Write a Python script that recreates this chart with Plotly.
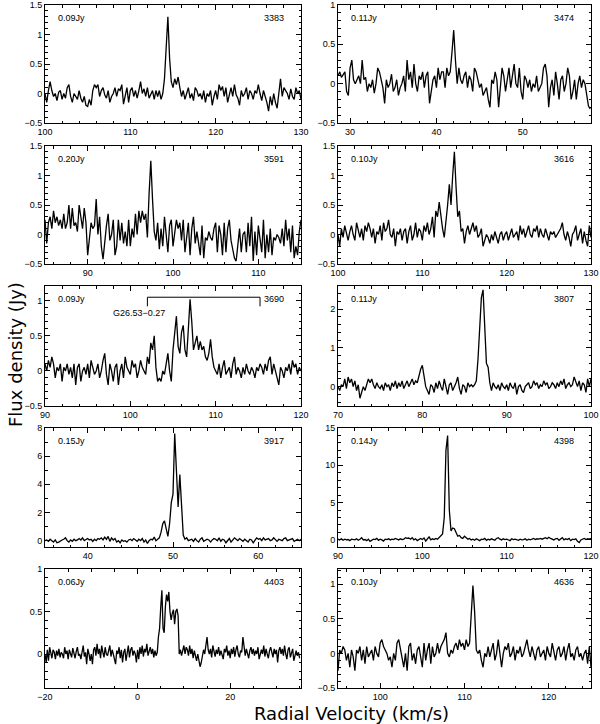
import numpy as np
import plotly.graph_objects as go

# ---------------- data ----------------
panel_ids = ["3383", "3474", "3591", "3616", "3690", "3807", "3917", "4398", "4403", "4636"]
rms_labels = ["0.09Jy", "0.11Jy", "0.20Jy", "0.10Jy", "0.09Jy", "0.11Jy", "0.15Jy", "0.14Jy", "0.06Jy", "0.10Jy"]
v_start = [100.0, 28.6, 85.0, 100.0, 90.0, 70.0, 35.0, 90.0, -20.0, 95.0]
v_step = [0.2, 0.2, 0.2, 0.2, 0.2, 0.2, 0.2, 0.2, 0.25, 0.2]

flux_3383 = [
    0.0, -0.15, 0.05, 0.2, 0.05, -0.05, 0.0, -0.12, 0.02, 0.05, -0.1, 0.0, -0.08, 0.1, 0.15, -0.05, -0.15, 0.0, -0.05, -0.1, 0.05, -0.08, -0.15, -0.05, -0.2,
    -0.22, -0.1, -0.2, 0.05, 0.15, 0.1, 0.15, -0.05, 0.05, 0.1, -0.02, -0.08, 0.05, -0.15, -0.05, 0.0, 0.1, -0.05, 0.08, 0.05, 0.15, -0.18, -0.05, 0.1, -0.15,
    0.05, 0.1, -0.05, 0.05, -0.08, 0.05, 0.2, 0.0, 0.08, -0.05, 0.1, -0.08, 0.0, 0.05, -0.1, 0.05, -0.05, 0.05, -0.1, 0.0, 0.25, 0.85, 1.3, 0.6, 0.2,
    0.1, 0.25, 0.15, 0.28, 0.1, -0.05, 0.05, -0.1, 0.0, 0.1, -0.08, 0.0, -0.12, 0.1, 0.05, -0.05, 0.0, -0.1, 0.05, -0.15, 0.0, -0.05, 0.05, -0.2, -0.05,
    0.05, -0.1, 0.15, 0.05, 0.12, -0.05, 0.1, -0.15, 0.0, 0.1, -0.05, 0.15, -0.02, -0.08, -0.2, 0.05, -0.05, 0.0, 0.1, -0.1, 0.05, 0.0, -0.1, 0.05, 0.0,
    0.15, 0.0, -0.12, 0.05, -0.05, -0.15, -0.3, -0.05, -0.2, 0.0, -0.15, -0.25, 0.0, 0.25, -0.05, 0.1, 0.05, 0.0, -0.1, 0.08, -0.05, -0.1, 0.1, 0.0, 0.05, -0.1,
]

flux_3474 = [
    0.1, 0.15, 0.08, 0.12, 0.15, -0.1, -0.15, 0.2, 0.3, 0.05, 0.0,
    0.05, 0.1, 0.0, 0.3, 0.05, 0.08, -0.1, 0.0, -0.05, 0.05,
    -0.12, 0.0, 0.2, 0.15, 0.05, -0.05, -0.25, 0.05, -0.05, 0.0,
    0.12, -0.1, -0.05, 0.05, -0.15, -0.05, 0.0, 0.1, -0.1, 0.3,
    0.05, 0.15, -0.05, 0.25, 0.0, -0.1, 0.1, 0.05, 0.15, -0.05,
    0.1, 0.15, -0.25, -0.1, 0.05, 0.1, -0.05, 0.2, 0.05, 0.15,
    0.15, -0.05, 0.2, 0.1, 0.15, 0.4, 0.68, 0.3, 0.0, 0.2,
    0.05, 0.0, 0.1, 0.15, -0.05, 0.1, 0.05, -0.1, 0.2, 0.15,
    0.05, -0.05, 0.0, -0.15, -0.1, -0.05, -0.2, -0.3, 0.05, 0.0,
    0.15, 0.05, -0.3, 0.0, 0.2, 0.1, -0.1, 0.05, 0.2, -0.05,
    0.1, 0.25, 0.0, -0.05, 0.2, -0.1, -0.2, 0.1, 0.05, -0.05,
    0.05, -0.1, 0.0, -0.05, 0.1, -0.1, -0.05, 0.0, 0.2, 0.25,
    0.1, -0.3, -0.05, 0.05, -0.15, 0.15, 0.0, -0.2, 0.05, 0.1,
    -0.1, 0.0, 0.2, 0.1, -0.2, -0.1, 0.05, -0.2, 0.0, 0.1,
    -0.05, 0.05, 0.0, -0.15, -0.28, -0.32,
]

flux_3591 = [
    0.25, -0.15, 0.2, 0.3, 0.1, 0.4, 0.2, 0.3, 0.15, 0.25,
    0.1, 0.35, 0.1, 0.2, 0.5, 0.1, 0.45, 0.15, 0.2, 0.05,
    0.5, 0.3, 0.1, 0.45, 0.2, -0.35, -0.1, 0.2, 0.1, 0.15,
    0.6, 0.0, 0.3, -0.2, -0.42, -0.1, 0.15, 0.35, -0.1, 0.0,
    0.25, -0.35, -0.2, 0.25, -0.1, 0.2, -0.15, 0.05, -0.2, 0.25,
    -0.2, 0.1, -0.05, 0.35, 0.0, 0.4, 0.2, 0.4, 0.25, 0.35,
    -0.05, 0.7, 1.25, 0.6, 0.05, -0.1, 0.2, -0.25, 0.1, -0.2,
    0.3, 0.0, -0.3, 0.15, 0.25, -0.2, 0.05, 0.25, 0.1, 0.2,
    -0.1, 0.25, -0.3, 0.0, 0.2, -0.35, 0.1, 0.3, -0.15, 0.05,
    -0.2, -0.35, 0.15, -0.4, -0.05, -0.1, 0.05, -0.05, -0.1, 0.1,
    0.2, -0.3, 0.15, 0.0, -0.35, 0.2, -0.3, 0.1, 0.25, -0.1,
    -0.25, -0.4, -0.45, -0.1, 0.1, -0.3, 0.0, 0.05, -0.3, 0.2,
    -0.2, 0.3, -0.45, 0.05, -0.35, 0.15, -0.1, -0.3, 0.25, -0.4,
    0.0, -0.3, 0.1, -0.35, -0.05, -0.1, 0.0, -0.05, -0.15, 0.1,
    -0.2, 0.25, -0.1, 0.1, -0.3, 0.15, -0.4, -0.2, -0.35, 0.05, 0.25,
]

flux_3616 = [
    0.0, -0.2, 0.1, -0.05, 0.15, 0.0, -0.1, 0.05, 0.15, 0.0,
    -0.1, 0.2, 0.05, -0.05, 0.1, -0.1, 0.15, 0.05, 0.2, 0.1,
    -0.05, 0.1, -0.15, 0.05, 0.0, 0.15, -0.1, 0.2, 0.05, 0.1,
    0.25, 0.0, -0.05, 0.1, -0.2, 0.05, 0.0, 0.1, -0.1, 0.05,
    0.1, -0.15, 0.05, 0.15, -0.1, 0.0, 0.2, -0.05, 0.1, 0.05,
    -0.1, 0.15, 0.05, 0.2, 0.0, 0.1, 0.3, -0.05, 0.4, 0.3,
    0.55, 0.3, 0.1, -0.05, 0.2, 0.5, 0.85, 0.5, 1.0, 1.4,
    0.8, 0.3, 0.4, 0.05, 0.1, -0.15, 0.05, 0.15, 0.0, 0.1,
    0.2, 0.05, 0.15, -0.05, 0.0, 0.1, -0.2, -0.1, 0.0, -0.05,
    -0.15, 0.0, -0.1, 0.05, -0.05, -0.15, 0.0, 0.05, -0.1, 0.0,
    0.05, -0.1, 0.0, 0.1, -0.05, 0.0, 0.05, -0.1, 0.15, 0.0,
    0.1, -0.05, 0.05, 0.15, 0.0, -0.05, 0.1, 0.05, 0.15, -0.05,
    0.1, 0.0, -0.05, 0.1, 0.0, -0.1, 0.05, 0.0, 0.05, -0.05,
    0.0, 0.05, 0.1, 0.2, 0.0, -0.1, 0.05, -0.05, -0.2, 0.0,
    0.05, 0.15, -0.1, 0.0, 0.1, -0.15, 0.05, -0.1, -0.2, 0.15, -0.05,
]

flux_3690 = [
    0.1, 0.0, 0.15, 0.05, 0.2, 0.1, -0.1, 0.05, 0.0, 0.1,
    -0.15, 0.05, 0.0, 0.1, -0.05, 0.05, -0.1, 0.1, -0.2, 0.05,
    0.1, -0.15, 0.0, 0.05, -0.05, 0.1, -0.1, 0.15, 0.05, -0.05,
    0.0, 0.1, -0.1, 0.0, 0.15, 0.25, -0.05, -0.2, 0.1, 0.0,
    -0.15, 0.05, 0.1, -0.2, 0.0, 0.1, -0.1, 0.2, 0.05, 0.0,
    -0.05, 0.15, 0.05, 0.1, -0.1, 0.0, 0.15, 0.05, 0.0, -0.05,
    0.2, 0.1, 0.4, 0.3, 0.5, 0.05, -0.15, -0.1, -0.15, 0.0,
    -0.05, 0.1, 0.25, 0.0, -0.15, 0.3, 0.5, 0.78, 0.35, 0.25,
    0.55, 0.65, 0.3, 0.2, 0.6, 1.02, 0.7, 0.3, 0.4, 0.5,
    0.3, 0.42, 0.3, 0.35, 0.2, 0.15, 0.25, 0.45, 0.2, 0.05,
    0.0, -0.05, 0.1, -0.1, 0.05, 0.15, -0.05, 0.0, 0.05, -0.1,
    0.1, 0.2, -0.05, 0.05, 0.0, -0.1, 0.05, -0.05, 0.1, 0.0,
    -0.05, 0.05, 0.0, -0.1, 0.05, 0.0, 0.1, 0.05, -0.05, 0.1,
    0.0, 0.15, 0.2, -0.05, 0.1, 0.0, -0.1, -0.2, 0.05, 0.0,
    -0.1, 0.05, 0.0, 0.1, -0.05, 0.15, 0.05, 0.1, -0.05, 0.05, 0.0,
]

flux_3807 = [
    0.0, -0.1, 0.05, 0.0, 0.2, -0.05, 0.25, 0.1, 0.2, 0.0,
    0.15, -0.1, 0.05, -0.3, -0.15, 0.0, -0.1, 0.05, 0.2, 0.1,
    0.2, 0.05, -0.05, 0.1, 0.0, -0.05, 0.05, -0.1, 0.1, 0.0,
    0.05, -0.1, 0.1, 0.0, 0.15, -0.05, 0.1, 0.0, 0.15, -0.05,
    0.05, 0.15, 0.0, 0.1, 0.2, 0.05, 0.15, 0.1, 0.3, 0.45,
    0.55, 0.3, 0.0, -0.1, -0.2, 0.05, 0.0, -0.15, 0.1, -0.05,
    0.15, 0.0, -0.1, 0.2, -0.05, -0.2, 0.05, 0.1, -0.1, 0.0,
    0.1, 0.25, -0.05, -0.2, 0.05, 0.0, -0.15, 0.1, 0.0, 0.05,
    0.0, 0.05, 0.15, 0.7, 1.6, 2.3, 2.5, 1.4, 0.6, 0.5,
    0.1, -0.1, 0.1, 0.0, -0.05, 0.05, -0.1, 0.1, 0.0, -0.05,
    0.05, -0.1, 0.1, 0.0, -0.05, 0.1, -0.2, 0.0, 0.05, -0.1,
    -0.15, 0.0, 0.05, 0.1, -0.05, 0.0, 0.15, 0.05, 0.1, -0.05,
    0.05, 0.0, 0.15, 0.05, 0.1, -0.05, 0.0, 0.1, 0.05, -0.05,
    0.1, 0.0, 0.15, 0.05, 0.2, -0.05, 0.05, 0.1, 0.0, 0.05,
    0.25, 0.1, 0.0, 0.15, -0.1, 0.1, 0.05, -0.15, 0.2, 0.0, 0.2,
]

flux_3917 = [
    0.0, 0.05, -0.05, 0.1, 0.0, -0.1, 0.05, -0.15, -0.1, 0.0,
    0.05, 0.1, 0.2, 0.0, -0.1, 0.05, -0.05, 0.1, 0.0, 0.05,
    0.15, 0.05, 0.2, 0.0, 0.1, 0.15, 0.05, 0.1, -0.05, 0.1,
    0.0, 0.15, 0.1, 0.2, 0.05, 0.25, 0.1, 0.3, -0.05, 0.2,
    0.05, 0.15, -0.1, 0.0, -0.15, 0.05, -0.05, 0.0, -0.1, 0.05,
    0.1, 0.0, 0.15, 0.05, -0.05, 0.1, 0.0, 0.15, -0.1, 0.05,
    -0.2, 0.0, 0.1, 0.05, 0.25, 0.0, 0.1, 0.2, 0.6, 1.2,
    1.4, 0.7, 0.3, 1.2, 2.7, 3.3, 7.6, 5.0, 2.4, 4.7,
    2.2, 0.4, 0.1, 0.2, 0.0, 0.05, 0.1, -0.05, 0.15, 0.0,
    -0.1, 0.1, 0.2, -0.05, 0.0, 0.1, 0.05, -0.1, 0.05, 0.15,
    0.1, 0.0, 0.2, -0.05, 0.1, 0.05, -0.15, 0.0, 0.15, -0.1,
    0.05, 0.2, 0.1, 0.0, 0.15, 0.05, -0.05, 0.1, 0.0, -0.1,
    0.1, 0.05, -0.15, 0.0, 0.2, 0.1, 0.15, 0.0, 0.2, 0.05,
    0.1, 0.15, 0.0, 0.05, 0.2, 0.1, -0.05, 0.1, 0.05, 0.0,
    0.15, 0.2, 0.0, 0.05, 0.1, 0.15, -0.05, 0.05, 0.1, 0.0, 0.1,
]

flux_4398 = [
    0.1, 0.0, 0.15, -0.05, 0.1, 0.0, 0.05, -0.1, 0.1, 0.05,
    0.0, 0.15, -0.05, 0.1, 0.3, 0.0, 0.05, -0.1, 0.1, -0.2,
    0.0, 0.1, 0.05, 0.2, -0.05, 0.1, 0.0, -0.15, 0.1, 0.05,
    0.15, 0.0, 0.1, 0.05, 0.2, 0.1, 0.0, 0.15, 0.05, 0.1,
    0.3, 0.2, 0.25, 0.1, 0.3, 0.0, 0.15, -0.1, 0.1, 0.2,
    0.05, 0.25, -0.15, 0.1, 0.4, 0.0, 0.15, 0.05, 0.2, 0.1,
    0.3, 0.5, 0.8, 3.0, 12.0, 14.0, 4.0, 1.2, 1.6, 1.5,
    0.9, 0.5, 0.6, 0.3, 0.2, 0.5, 0.3, 0.1, 0.2, 0.0,
    0.1, -0.05, 0.15, 0.0, -0.1, 0.1, 0.05, 0.2, -0.05, 0.1,
    0.0, 0.15, 0.1, -0.05, 0.2, 0.3, 0.1, 0.0, 0.15, 0.05,
    0.1, 0.0, -0.1, 0.15, 0.05, 0.1, 0.0, -0.05, 0.1, 0.0,
    0.05, 0.15, -0.05, 0.1, 0.0, 0.1, 0.2, 0.05, 0.15, 0.1,
    0.2, 0.1, 0.25, 0.3, 0.15, 0.35, 0.2, 0.1, 0.0, 0.15,
    0.2, -0.05, 0.1, 0.3, 0.0, 0.15, 0.05, 0.2, -0.1, 0.1,
    0.05, 0.15, -0.2, -0.35, 0.0, 0.1, 0.2, 0.05, 0.15, 0.1, 0.2,
]

flux_4403 = [
    0.0, -0.1, 0.05, -0.08, 0.08, 0.0, -0.05, 0.05, 0.02, -0.06, 0.04, -0.02, 0.06, -0.04, 0.02, 0.0, -0.05, 0.08, 0.0, 0.04,
    -0.06, 0.05, 0.0, -0.04, 0.07, 0.02, -0.05, 0.03, 0.08, -0.02, 0.0, -0.06, 0.04, 0.1, -0.03, 0.02, -0.12, 0.06, 0.0, -0.08,
    0.0, -0.12, 0.05, 0.08, -0.02, 0.12, 0.0, 0.06, -0.05, 0.1, 0.02, -0.04, 0.08, 0.0, -0.02, 0.06, 0.1, -0.03, 0.05, 0.0,
    -0.06, -0.12, 0.04, 0.0, 0.08, -0.05, 0.05, -0.1, 0.02, 0.06, -0.08, 0.0, 0.1, -0.04, 0.05, 0.08, -0.02, 0.04, 0.0, -0.1,
    0.05, -0.06, 0.08, 0.0, 0.1, -0.03, 0.06, 0.02, 0.12, -0.02, 0.05, 0.08, 0.0, 0.06, -0.04, 0.04, -0.02, 0.02, 0.2, 0.3,
    0.55, 0.75, 0.3, 0.25, 0.55, 0.7, 0.62, 0.73, 0.5, 0.4, 0.48, 0.52, 0.35, 0.5, 0.53, 0.45, 0.0, 0.05, -0.02, 0.06,
    0.1, 0.0, 0.08, 0.05, -0.02, 0.1, 0.0, 0.06, -0.05, 0.04, -0.02, -0.08, 0.0, -0.06, -0.15, -0.1, -0.02, 0.05, 0.0, 0.08,
    0.2, 0.05, 0.0, 0.06, -0.04, 0.1, 0.02, -0.03, 0.05, 0.0, 0.08, -0.02, 0.04, 0.0, -0.06, 0.06, 0.02, 0.1, -0.02, 0.04,
    -0.05, 0.06, 0.0, 0.08, -0.03, 0.05, 0.1, 0.0, -0.04, 0.04, 0.02, 0.2, 0.05, -0.02, 0.06, 0.0, -0.05, 0.04, 0.08, 0.0,
    0.06, -0.02, 0.04, 0.0, 0.08, -0.06, 0.02, 0.05, 0.0, 0.1, -0.03, 0.06, 0.0, -0.05, 0.04, 0.08, 0.02, -0.04, 0.06, 0.0,
    0.05, -0.1, 0.04, 0.08, 0.0, 0.06, -0.02, 0.1, 0.0, -0.06, 0.05, 0.08, -0.04, 0.02, 0.06, -0.08, 0.0, 0.04, -0.02, 0.02, -0.05,
]

flux_4636 = [
    -0.25, 0.05, 0.0, 0.1, 0.05, -0.1, 0.0, -0.2, 0.05, -0.05,
    -0.25, 0.05, 0.0, 0.1, -0.1, 0.05, -0.15, 0.1, -0.05, 0.0,
    0.05, -0.1, 0.1, 0.0, -0.05, 0.15, 0.2, 0.1, 0.05, 0.0,
    -0.1, -0.05, -0.2, 0.0, -0.1, 0.15, 0.2, 0.05, -0.05, -0.2,
    0.0, -0.25, 0.1, 0.15, -0.1, 0.0, -0.15, 0.05, 0.1, -0.05,
    -0.2, 0.15, -0.1, 0.05, 0.15, -0.15, 0.1, -0.05, 0.0, 0.15,
    0.0, 0.1, 0.15, 0.2, 0.3, 0.0, -0.05, 0.05, 0.0, 0.1,
    0.15, 0.05, 0.2, 0.1, 0.15, 0.05, 0.2, 0.1, 0.15, 0.55,
    0.98, 0.6, 0.05, 0.0, 0.05, -0.1, -0.2, 0.0, -0.05, 0.1,
    -0.05, 0.05, 0.15, -0.1, 0.0, 0.2, -0.05, -0.2, 0.0, 0.1,
    0.05, 0.15, -0.05, 0.0, 0.1, -0.1, 0.05, 0.0, 0.1, -0.05,
    0.0, 0.1, 0.2, 0.05, -0.05, 0.1, 0.0, -0.1, 0.05, 0.1,
    -0.05, 0.0, 0.05, -0.1, 0.1, 0.0, -0.05, 0.15, 0.0, -0.1,
    0.05, 0.1, -0.05, 0.0, 0.1, -0.1, 0.05, 0.15, -0.05, 0.0,
    -0.1, 0.05, 0.1, -0.05, 0.0, -0.1, 0.0, 0.05, -0.15, 0.1, -0.2,
]

fluxes = [flux_3383, flux_3474, flux_3591, flux_3616, flux_3690,
          flux_3807, flux_3917, flux_4398, flux_4403, flux_4636]

# G26.53-0.27 velocity interval marker in panel 3690
bracket_v = [102.0, 115.2]
bracket_top = 1.05
bracket_foot = 0.92
bracket_label = "G26.53\u22120.27"
bracket_label_v = 101.0
bracket_label_y = 0.82

# ---------------- axes settings ----------------
x_ranges = [[100, 130], [28.6, 57.9], [85, 115], [100, 130], [90, 120],
            [70, 100], [35, 65], [90, 120], [-20, 35.3], [95, 125]]
y_ranges = [[-0.5, 1.5], [-0.5, 1.0], [-0.5, 1.5], [-0.5, 1.5], [-0.5, 1.21],
            [-0.5, 2.6], [-0.45, 8.0], [-0.95, 15.0], [-0.4, 1.0], [-0.5, 1.22]]
x_dtick = [10, 10, 10, 10, 10, 10, 10, 10, 20, 10]
x_minor = [2, 2, 2, 2, 2, 2, 2, 2, 5, 2]
y_dtick = [0.5, 0.5, 0.5, 0.5, 0.5, 1, 2, 5, 0.5, 0.5]
y_minor = [0.1, 0.1, 0.1, 0.1, 0.1, 0.2, 1, 1, 0.1, 0.1]

W, H = 600, 724
col_px = [(45, 301), (338, 591)]
row_px = [(5, 123), (146, 264), (286, 406), (428, 547), (569, 688)]

tick_font = dict(family="Liberation Sans, Arial, sans-serif", size=9, color="black")

fig = go.Figure()
layout = dict(
    template="none",
    width=W, height=H,
    margin=dict(l=0, r=0, t=0, b=0, pad=0, autoexpand=False),
    paper_bgcolor="white", plot_bgcolor="white",
    showlegend=False,
)
annotations = []

for k in range(10):
    n = k + 1
    r, c = divmod(k, 2)
    x0, x1 = col_px[c]
    top, bot = row_px[r]
    xs = "" if n == 1 else str(n)
    v = v_start[k] + v_step[k] * np.arange(len(fluxes[k]))
    fig.add_trace(go.Scatter(
        x=v, y=fluxes[k], mode="lines",
        line=dict(color="black", width=1.3),
        xaxis="x" + xs, yaxis="y" + xs, hoverinfo="skip",
    ))
    common = dict(
        showline=True, linecolor="black", linewidth=1, mirror="ticks",
        ticks="inside", ticklen=5, tickwidth=1, tickcolor="black",
        showgrid=False, zeroline=False, tickfont=tick_font,
        tickmode="linear", tick0=0, automargin=False,
    )
    layout["xaxis" + xs] = dict(
        common, domain=[x0 / W, x1 / W], anchor="y" + xs,
        range=x_ranges[k], dtick=x_dtick[k],
        minor=dict(ticks="inside", ticklen=2.5, dtick=x_minor[k], tick0=0,
                   tickcolor="black", showgrid=False),
    )
    layout["yaxis" + xs] = dict(
        common, domain=[1 - bot / H, 1 - top / H], anchor="x" + xs,
        range=y_ranges[k], dtick=y_dtick[k],
        minor=dict(ticks="inside", ticklen=2.5, dtick=y_minor[k], tick0=0,
                   tickcolor="black", showgrid=False),
    )
    ytext_pos = 1 - 13.0 / (bot - top)
    annotations.append(dict(
        text=rms_labels[k], xref=f"x{xs} domain", yref=f"y{xs} domain",
        x=11.0 / (x1 - x0), y=ytext_pos, xanchor="left", yanchor="middle",
        showarrow=False, font=tick_font,
    ))
    annotations.append(dict(
        text=panel_ids[k], xref=f"x{xs} domain", yref=f"y{xs} domain",
        x=1 - 15.0 / (x1 - x0), y=ytext_pos, xanchor="right", yanchor="middle",
        showarrow=False, font=tick_font,
    ))

# bracket in panel 5 (3690)
fig.add_trace(go.Scatter(
    x=[bracket_v[0], bracket_v[0], bracket_v[1], bracket_v[1]],
    y=[bracket_foot, bracket_top, bracket_top, bracket_foot],
    mode="lines", line=dict(color="black", width=1),
    xaxis="x5", yaxis="y5", hoverinfo="skip",
))
annotations.append(dict(
    text=bracket_label, xref="x5", yref="y5", x=bracket_label_v, y=bracket_label_y,
    xanchor="center", yanchor="middle", showarrow=False, font=tick_font,
))

title_font = dict(family="DejaVu Sans, sans-serif", size=18, color="black")
annotations.append(dict(
    text="Flux density (Jy)", xref="paper", yref="paper",
    x=15.0 / W, y=1 - 355.0 / H, xanchor="center", yanchor="middle",
    textangle=-90, showarrow=False, font=title_font,
))
annotations.append(dict(
    text="Radial Velocity (km/s)", xref="paper", yref="paper",
    x=351.0 / W, y=1 - 713.0 / H, xanchor="center", yanchor="middle",
    showarrow=False, font=title_font,
))

layout["annotations"] = annotations
fig.update_layout(**layout)
fig.write_html(
    "out.html",
    config={"displayModeBar": False, "staticPlot": True},
    post_script="document.body.style.margin='0px';document.body.style.overflow='hidden';",
)
